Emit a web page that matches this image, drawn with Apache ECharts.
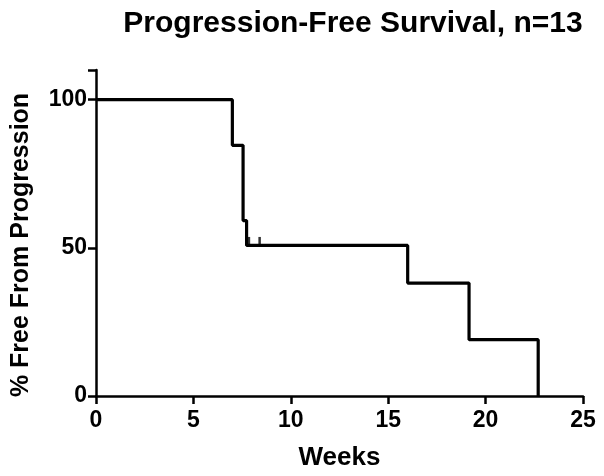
<!DOCTYPE html>
<html>
<head>
<meta charset="utf-8">
<script src="https://cdn.jsdelivr.net/npm/echarts@6/dist/echarts.min.js"></script>
<style>html,body{margin:0;padding:0;background:#fff}#c{width:604px;height:476px}</style>
</head>
<body>
<div id="c"></div>
<script>
// Kaplan-Meier step data (weeks, % free from progression)
const stepWeeks = [0, 7.0, 7.55, 7.73, 16.0, 19.15, 22.7];
const stepPercent = [100, 84.6, 59.2, 50.8, 38.1, 19.0, 0];
// censored observations
const censorWeeks = [7.85, 8.4];
const censorPercent = [50.8, 50.8];
const xTicks = [0, 5, 10, 15, 20, 25];
const yTicks = [0, 50, 100];

const font = '"Liberation Sans", Arial, sans-serif';
const chart = echarts.init(document.getElementById('c'), null, {renderer: 'canvas'});
chart.setOption({
  animation: false,
  backgroundColor: '#fff',
  title: {
    text: 'Progression-Free Survival, n=13',
    left: 348, top: 4, textAlign: 'center',
    textStyle: {fontFamily: font, fontWeight: 'bold', fontSize: 30, color: '#000'}
  },
  grid: {left: 96, right: 21, top: 70, bottom: 79, containLabel: false},
  xAxis: {
    type: 'value', min: 0, max: 25, interval: 5,
    name: 'Weeks', nameLocation: 'middle', nameGap: 49,
    nameTextStyle: {fontFamily: font, fontWeight: 'bold', fontSize: 26, color: '#000'},
    axisLine: {lineStyle: {color: '#000', width: 2.5}},
    axisTick: {show: true, length: 8, lineStyle: {color: '#000', width: 2.5}},
    axisLabel: {fontFamily: font, fontWeight: 'bold', fontSize: 23, color: '#000', margin: 13,
      formatter: v => xTicks.includes(v) ? String(v) : ''},
    splitLine: {show: false}
  },
  yAxis: {
    type: 'value', min: 0, max: 110, interval: 50,
    name: '% Free From Progression', nameLocation: 'middle', nameGap: 62, nameRotate: 90,
    nameTextStyle: {fontFamily: font, fontWeight: 'bold', fontSize: 25, color: '#000',
      padding: [0, 24, 0, 0]},
    axisLine: {show: true, lineStyle: {color: '#000', width: 2.5}},
    axisTick: {show: true, length: 8, lineStyle: {color: '#000', width: 2.5}},
    axisLabel: {fontFamily: font, fontWeight: 'bold', fontSize: 23, color: '#000', margin: 9,
      formatter: v => yTicks.includes(v) ? String(v) : ''},
    splitLine: {show: false}
  },
  series: [
    {
      type: 'line', step: 'end', showSymbol: false, symbol: 'none',
      data: stepWeeks.map((w, i) => [w, stepPercent[i]]),
      lineStyle: {color: '#000', width: 3.2}
    },
    {
      type: 'scatter',
      data: censorWeeks.map((w, i) => [w, censorPercent[i]]),
      symbol: 'rect', symbolSize: [2.5, 9], symbolOffset: [0, -4],
      itemStyle: {color: '#000'}
    }
  ]
});
</script>
</body>
</html>
